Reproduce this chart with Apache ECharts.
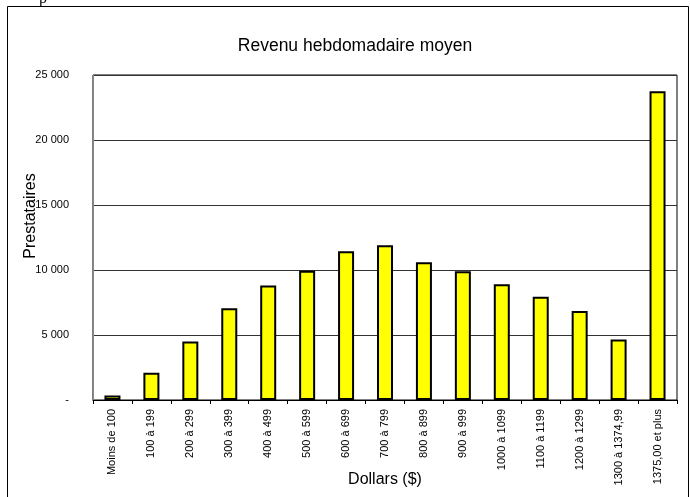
<!DOCTYPE html>
<html>
<head>
<meta charset="utf-8">
<script src="https://cdn.jsdelivr.net/npm/echarts@6/dist/echarts.min.js"></script>
<style>
  html, body { margin: 0; padding: 0; background: #fff; }
  #chart { width: 690px; height: 497px; }
</style>
</head>
<body>
<div id="chart"></div>
<script>
var categories = ['Moins de 100', '100 à 199', '200 à 299', '300 à 399', '400 à 499',
  '500 à 599', '600 à 699', '700 à 799', '800 à 899', '900 à 999', '1000 à 1099',
  '1100 à 1199', '1200 à 1299', '1300 à 1374,99', '1375,00 et plus'];
var prestataires = [350, 2100, 4500, 7050, 8800, 9950, 11450, 11900, 10600, 9900,
  8900, 7950, 6850, 4650, 23750];

var FONT = '"Liberation Sans", Arial, sans-serif';

function fmt(v) {
  if (v === 0) return '-';
  return String(v).replace(/\B(?=(\d{3})+(?!\d))/g, ' ');
}

var chart = echarts.init(document.getElementById('chart'));

chart.setOption({
  animation: false,
  textStyle: { fontFamily: FONT, color: '#000' },
  title: {
    text: 'Revenu hebdomadaire moyen',
    left: 350,
    top: 32,
    textAlign: 'center',
    textStyle: { fontFamily: FONT, fontSize: 17.5, fontWeight: 'normal', color: '#000' }
  },
  graphic: [
    {
      type: 'rect',
      shape: { x: 7.5, y: 6.5, width: 681, height: 500 },
      style: { fill: 'none', stroke: '#000', lineWidth: 1 },
      z: -1
    },
    {
      type: 'text',
      x: 31,
      y: 216,
      rotation: Math.PI / 2,
      style: {
        text: 'Prestataires',
        font: '16px ' + FONT,
        fill: '#000',
        align: 'center',
        verticalAlign: 'middle'
      },
      z: 10
    },
    {
      // x axis title, placed by hand so it sits between the rotated labels like the original
      type: 'text',
      x: 385,
      y: 480,
      style: {
        text: 'Dollars ($)',
        font: '16px ' + FONT,
        fill: '#000',
        align: 'center',
        verticalAlign: 'middle'
      },
      z: 10
    },
    {
      type: 'text',
      x: 43,
      y: -9,
      style: { text: 'p', font: '16px "Liberation Serif", serif', fill: '#000', align: 'center' }
    }
  ],
  grid: {
    left: 93,
    right: 13,
    top: 75,
    bottom: 97,
    outerBoundsMode: 'none',
    containLabel: false,
    show: true,
    borderColor: '#000',
    borderWidth: 1
  },
  xAxis: {
    type: 'category',
    data: categories,
    axisLine: { lineStyle: { color: '#000', width: 1 } },
    axisTick: { show: true, length: 4, lineStyle: { color: '#000' } },
    axisLabel: {
      rotate: 90,
      margin: 9,
      fontFamily: FONT,
      fontSize: 11,
      color: '#000',
      interval: 0
    }
  },
  yAxis: {
    type: 'value',
    min: 0,
    max: 25000,
    interval: 5000,
    axisLine: { show: true, lineStyle: { color: '#888', width: 1 } },
    axisTick: { show: false },
    axisLabel: {
      margin: 24,
      fontFamily: FONT,
      fontSize: 11,
      color: '#000',
      formatter: fmt
    },
    splitLine: { lineStyle: { color: '#333', width: 1 } }
  },
  series: [{
    type: 'bar',
    data: prestataires,
    barWidth: 16,
    itemStyle: { color: '#FFFF00', borderColor: '#000', borderWidth: 2 }
  }]
});
</script>
</body>
</html>
